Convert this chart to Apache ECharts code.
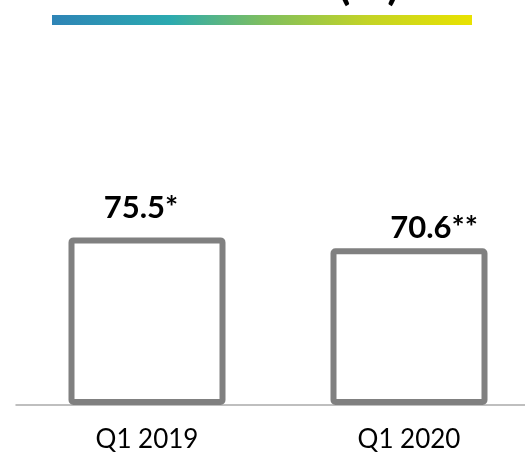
<!DOCTYPE html>
<html>
<head>
<meta charset="utf-8">
<script src="https://cdn.jsdelivr.net/npm/echarts@6/dist/echarts.min.js"></script>
<style>
  html, body { margin: 0; padding: 0; background: #fff; }
  #main { width: 525px; height: 452px; }
</style>
</head>
<body>
<div id="main"></div>
<script>
// data
var categories = ['Q1 2019', 'Q1 2020']
var values = [75.5, 70.6]
var valueLabels = ['75.5*', '70.6**']
var titleText = '(%)'

var myChart = echarts.init(document.getElementById('main'))

// label positions differ a bit per bar in the original
var labelOffsets = [[-6, -4], [25, 5]]

var barData = values.map(function (v, i) {
  return {
    value: v,
    label: { formatter: valueLabels[i], offset: labelOffsets[i] }
  }
})

myChart.setOption({
  animation: false,
  backgroundColor: '#fff',
  graphic: [
    {
      type: 'text',
      left: 338,
      top: -38,
      style: {
        text: titleText,
        font: 'bold 45px Lato',
        fill: '#000'
      }
    },
    {
      type: 'rect',
      shape: { x: 52, y: 15, width: 420, height: 10 },
      style: {
        fill: new echarts.graphic.LinearGradient(0, 0, 1, 0, [
          { offset: 0, color: '#2E84B6' },
          { offset: 0.28, color: '#2BAAB0' },
          { offset: 0.5, color: '#7DBE60' },
          { offset: 0.75, color: '#C3D326' },
          { offset: 1, color: '#E9E200' }
        ])
      }
    }
  ],
  grid: {
    left: 16,
    width: 524,
    top: 183,
    bottom: 47,
    outerBoundsMode: 'none',
    containLabel: false
  },
  xAxis: {
    type: 'category',
    data: categories,
    axisLine: { lineStyle: { color: '#ABABAB', width: 1.5 } },
    axisTick: { show: false },
    axisLabel: {
      color: '#000',
      fontSize: 26,
      fontFamily: 'Lato',
      margin: 22
    }
  },
  yAxis: {
    type: 'value',
    min: 0,
    max: 100,
    show: false
  },
  series: [{
    type: 'bar',
    data: barData,
    barWidth: 157,
    itemStyle: {
      color: '#fff',
      borderColor: '#808080',
      borderWidth: 6,
      borderRadius: 2
    },
    label: {
      show: true,
      position: 'top',
      distance: 10,
      color: '#000',
      fontSize: 31,
      fontWeight: 'bold',
      fontFamily: 'Lato'
    }
  }]
})
</script>
</body>
</html>
